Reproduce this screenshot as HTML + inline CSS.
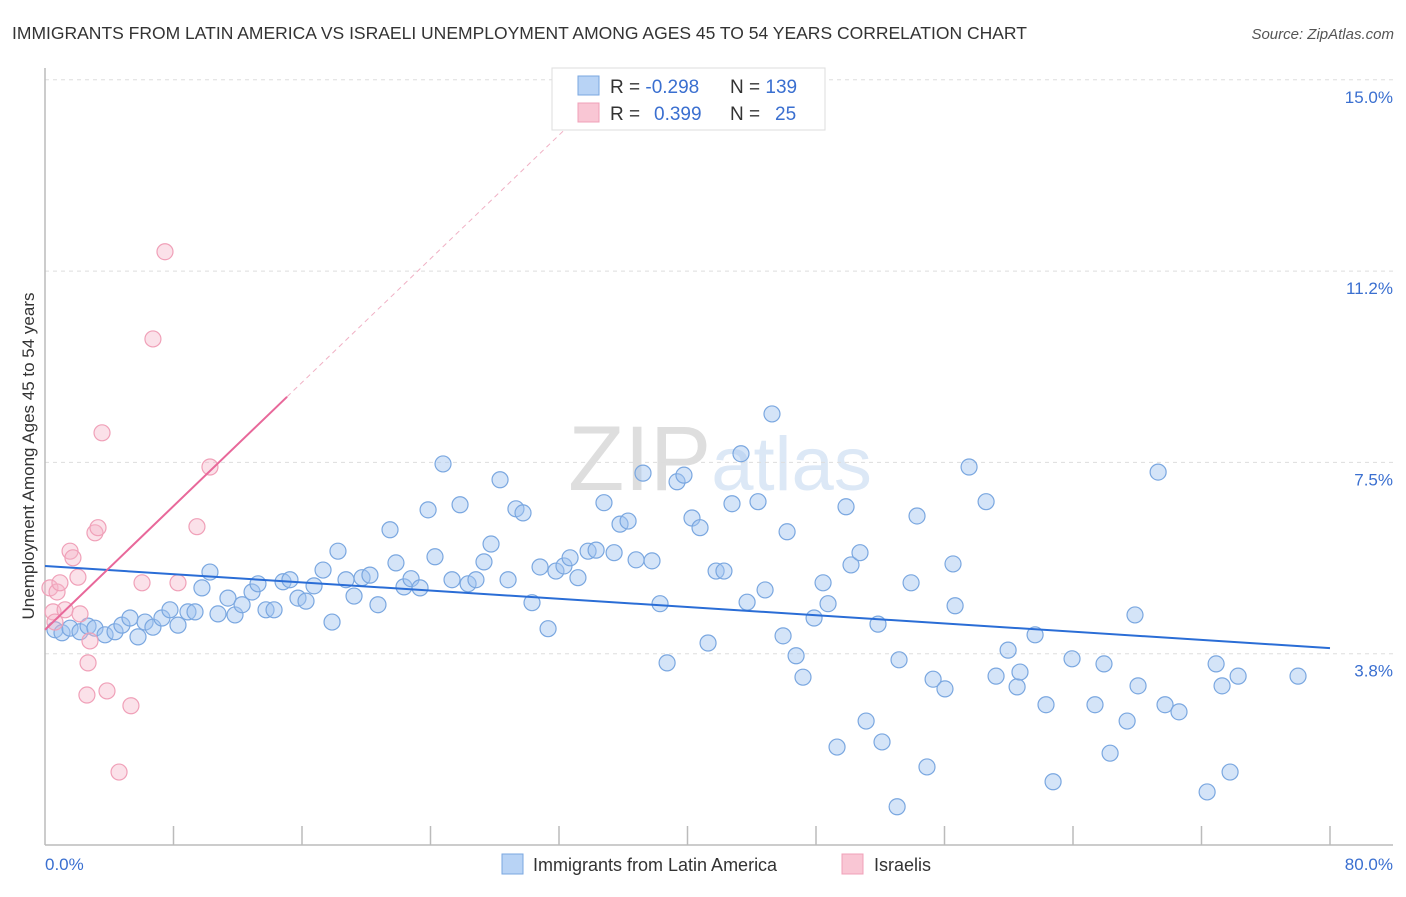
<!DOCTYPE html>
<html><head><meta charset="utf-8"><style>
body{margin:0;background:#fff;font-family:"Liberation Sans",sans-serif}
svg text{font-family:"Liberation Sans",sans-serif}
</style></head><body>
<svg id="chart" width="1406" height="892" xmlns="http://www.w3.org/2000/svg">
<text x="12" y="39" font-size="17.5" fill="#333">IMMIGRANTS FROM LATIN AMERICA VS ISRAELI UNEMPLOYMENT AMONG AGES 45 TO 54 YEARS CORRELATION CHART</text>
<text x="1394" y="39" font-size="15" fill="#555" text-anchor="end" font-style="italic">Source: ZipAtlas.com</text>
<text x="720" y="490" font-size="92" fill="#e6e6e6" text-anchor="middle" font-family="Liberation Serif"><tspan fill="#dedede">ZIP</tspan><tspan fill="#dce8f6" font-family="Liberation Sans" font-size="76">atlas</tspan></text>
<g id="grid"></g>
<g id="axes"></g>
<g id="marks"></g>
<text transform="translate(34,456) rotate(-90)" font-size="17" fill="#333" text-anchor="middle">Unemployment Among Ages 45 to 54 years</text>
<g>
<rect x="552" y="68" width="273" height="62" fill="#fff" stroke="#ddd"/>
<rect x="578" y="76" width="21" height="19" fill="#b8d3f5" stroke="#7aa7e0"/>
<rect x="578" y="103" width="21" height="19" fill="#f9c6d4" stroke="#f0a0b8"/>
<text x="610" y="93" font-size="19" fill="#333">R = <tspan fill="#3a6fd0">-0.298</tspan></text>
<text x="730" y="93" font-size="19" fill="#333">N = <tspan fill="#3a6fd0">139</tspan></text>
<text x="610" y="120" font-size="19" fill="#333">R = <tspan fill="#3a6fd0" x="654">0.399</tspan></text>
<text x="730" y="120" font-size="19" fill="#333">N = <tspan fill="#3a6fd0" x="775">25</tspan></text>
</g>
<g>
<rect x="502" y="854" width="21" height="20" fill="#b8d3f5" stroke="#7aa7e0"/>
<text x="533" y="871" font-size="18" fill="#333">Immigrants from Latin America</text>
<rect x="842" y="854" width="21" height="20" fill="#f9c6d4" stroke="#f0a0b8"/>
<text x="874" y="871" font-size="18" fill="#333">Israelis</text>
</g>
</svg>
<script>
const yTicks=[3.75,7.5,11.25,15];
const yTickLabels=["3.8%","7.5%","11.2%","15.0%"];
const xTickLabels=["0.0%","80.0%"];
const blueX=[0.62,1.06,1.56,2.18,2.68,3.11,3.74,4.36,4.79,5.29,5.79,6.23,6.72,7.28,7.78,8.28,8.90,9.34,9.77,10.27,10.77,11.39,11.83,12.27,12.89,13.26,13.76,14.26,14.82,15.25,15.75,16.25,16.75,17.31,17.87,18.24,18.74,19.24,19.74,20.23,20.73,21.48,21.85,22.35,22.79,23.35,23.85,24.28,24.78,25.34,25.84,26.34,26.83,27.33,27.77,28.33,28.83,29.32,29.76,30.32,30.82,31.32,31.81,32.31,32.69,33.18,33.81,34.31,34.80,35.43,35.80,36.30,36.80,37.23,37.79,38.29,38.73,39.35,39.78,40.28,40.78,41.28,41.78,42.27,42.77,43.33,43.71,44.39,44.83,45.26,45.95,46.20,46.76,47.19,47.88,48.44,48.75,49.31,49.87,50.18,50.74,51.12,51.86,52.11,53.05,53.17,53.92,54.29,54.91,55.29,56.03,56.53,56.66,57.53,58.59,59.21,59.96,60.52,60.70,61.64,62.32,62.76,63.94,65.37,65.93,66.31,67.37,67.86,68.05,69.30,69.73,70.60,72.35,72.91,73.28,73.78,74.28,78.01];
const blueY=[4.22,4.16,4.25,4.18,4.29,4.25,4.12,4.18,4.31,4.45,4.08,4.37,4.27,4.45,4.61,4.31,4.57,4.57,5.04,5.35,4.53,4.84,4.51,4.71,4.96,5.12,4.61,4.61,5.16,5.20,4.84,4.78,5.08,5.39,4.37,5.76,5.20,4.88,5.24,5.29,4.71,6.18,5.53,5.06,5.22,5.04,6.57,5.65,7.47,5.20,6.67,5.12,5.20,5.55,5.90,7.16,5.20,6.59,6.51,4.75,5.45,4.24,5.37,5.47,5.63,5.24,5.76,5.78,6.71,5.73,6.29,6.35,5.59,7.29,5.57,4.73,3.57,7.12,7.25,6.41,6.22,3.96,5.37,5.37,6.69,7.67,4.76,6.73,5.00,8.45,4.10,6.14,3.71,3.29,4.45,5.14,4.73,1.92,6.63,5.49,5.73,2.43,4.33,2.02,0.75,3.63,5.14,6.45,1.53,3.25,3.06,5.51,4.69,7.41,6.73,3.31,3.82,3.10,3.39,4.12,2.75,1.24,3.65,2.75,3.55,1.80,2.43,4.51,3.12,7.31,2.75,2.61,1.04,3.55,3.12,1.43,3.31,3.31];
const pinkX=[0.31,0.50,0.62,0.75,0.93,1.25,1.56,1.74,2.05,2.18,2.61,2.68,2.80,3.11,3.30,3.55,3.86,4.61,5.35,6.04,6.72,7.47,8.28,9.46,10.27];
const pinkY=[5.04,4.57,4.37,4.96,5.14,4.61,5.76,5.63,5.25,4.53,2.94,3.57,4.00,6.12,6.22,8.08,3.02,1.43,2.73,5.14,9.92,11.63,5.14,6.24,7.41];
const blueTrend=[5.47,3.86]; // y at x=0 and x=80
const pinkTrend=[4.22,0.303]; // intercept, slope
const pinkSolidEnd=15.07, pinkDashEnd=32.7;

const NS="http://www.w3.org/2000/svg";
const X0=45,X1=1330,Y0=845,YS=191.3/3.75;
const sx=v=>X0+(v/80)*(X1-X0);
const sy=v=>Y0-v*YS;
function mk(tag,attrs,parent){const e=document.createElementNS(NS,tag);for(const k in attrs)e.setAttribute(k,attrs[k]);parent.appendChild(e);return e;}
const grid=document.getElementById('grid'),axes=document.getElementById('axes'),marks=document.getElementById('marks');
yTicks.forEach((t,i)=>{
 const l=mk('line',{x1:X0,x2:1393,y1:sy(t),y2:sy(t),stroke:'#ddd','stroke-dasharray':'4,4'},grid);
 
 
 const tx=mk('text',{x:1393,y:sy(t)+23,'font-size':17,fill:'#3a6fd0','text-anchor':'end'},axes);
 tx.textContent=yTickLabels[i];
 
 
});
let a=mk('line',{x1:X0,x2:X0,y1:68,y2:Y0,stroke:'#bbb','stroke-width':1.5},axes);


a=mk('line',{x1:X0,x2:1393,y1:Y0,y2:Y0,stroke:'#bbb','stroke-width':1.5},axes);


for(let i=1;i<=10;i++){
 const t=mk('line',{x1:sx(i*8),x2:sx(i*8),y1:826,y2:Y0,stroke:'#bbb','stroke-width':1.5},axes);
 
 
}
let t1=mk('text',{x:45,y:870,'font-size':17,fill:'#3a6fd0'},axes);t1.textContent=xTickLabels[0];


let t2=mk('text',{x:1393,y:870,'font-size':17,fill:'#3a6fd0','text-anchor':'end'},axes);t2.textContent=xTickLabels[1];


blueX.forEach((x,i)=>{
 const c=mk('circle',{cx:sx(x),cy:sy(blueY[i]),r:8,fill:'rgba(160,195,240,0.45)',stroke:'#7aa7e0','stroke-width':1.2},marks);
 
 
});
pinkX.forEach((x,i)=>{
 const c=mk('circle',{cx:sx(x),cy:sy(pinkY[i]),r:8,fill:'rgba(245,180,200,0.4)',stroke:'#f0a0b8','stroke-width':1.2},marks);
 
 
});
let bl=mk('line',{x1:sx(0),y1:sy(blueTrend[0]),x2:sx(80),y2:sy(blueTrend[1]),stroke:'#2a6dd6','stroke-width':2},marks);


const py=x=>pinkTrend[0]+pinkTrend[1]*x;
let pd=mk('line',{x1:sx(pinkSolidEnd),y1:sy(py(pinkSolidEnd)),x2:sx(pinkDashEnd),y2:sy(py(pinkDashEnd)),stroke:'#f0b0c4','stroke-width':1,'stroke-dasharray':'5,4'},marks);


let pl=mk('line',{x1:sx(0),y1:sy(py(0)),x2:sx(pinkSolidEnd),y2:sy(py(pinkSolidEnd)),stroke:'#e8689a','stroke-width':2},marks);


</script>
</body></html>
